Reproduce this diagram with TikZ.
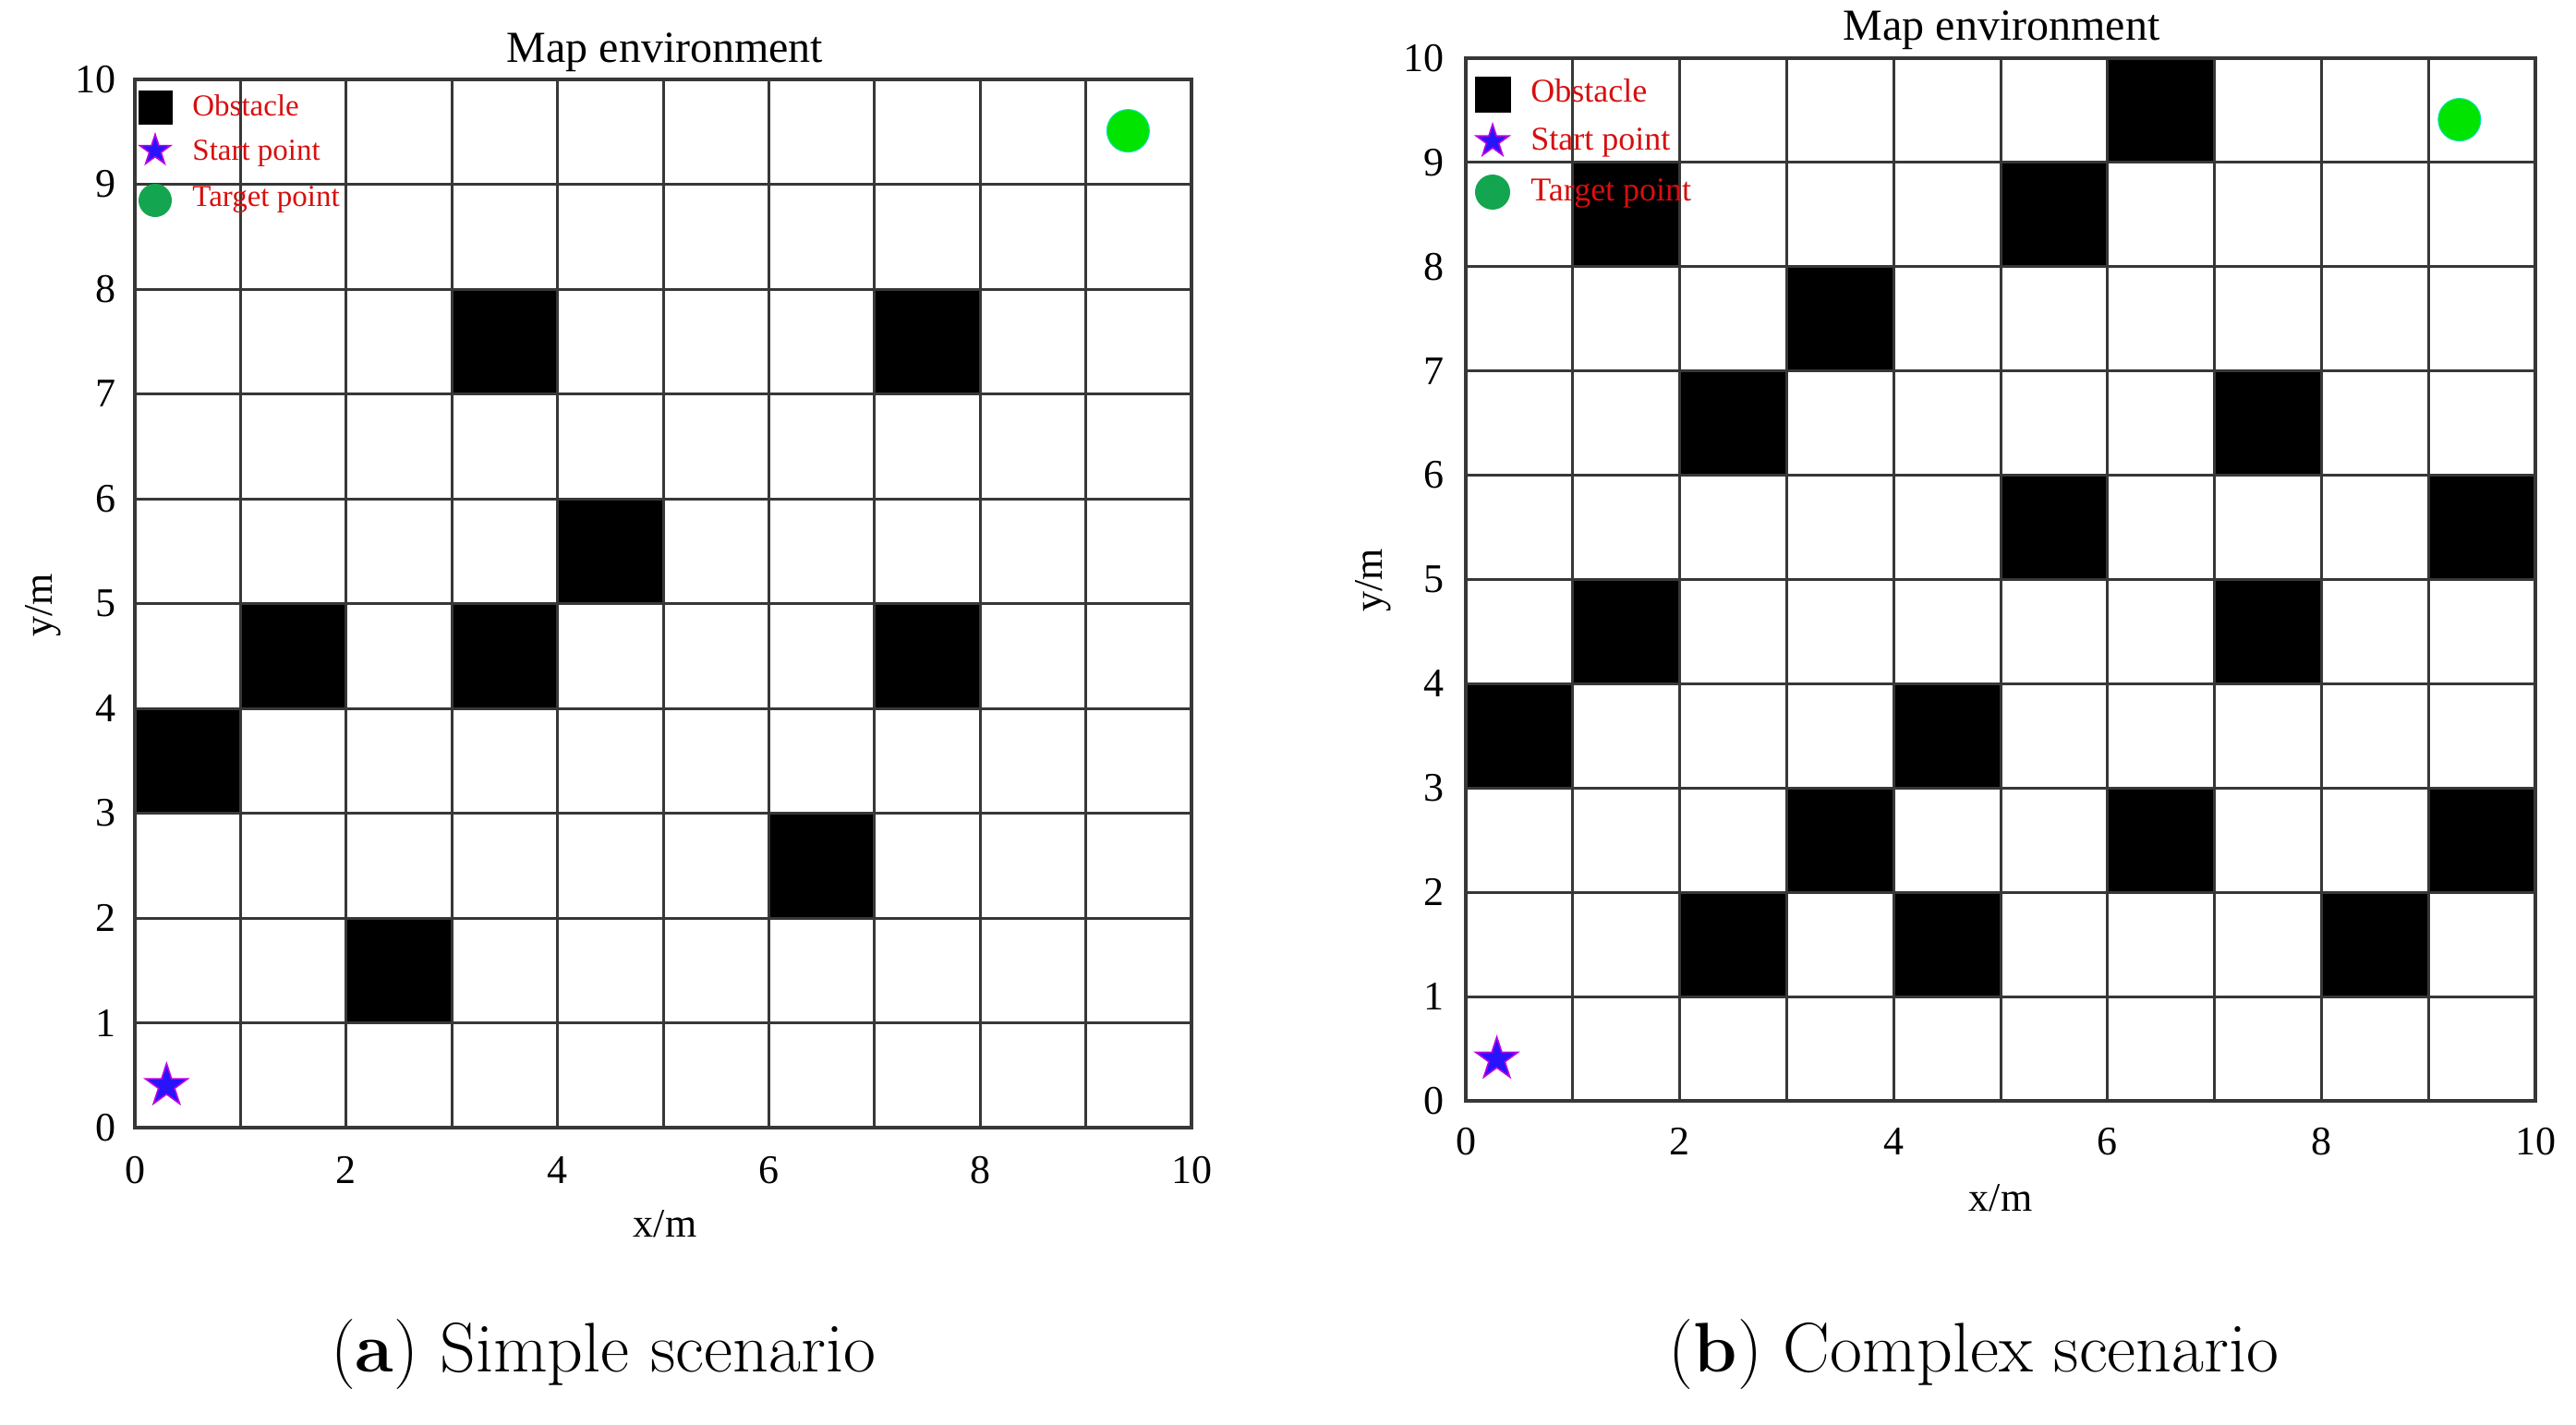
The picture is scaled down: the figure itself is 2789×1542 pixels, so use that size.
\documentclass[tikz,border=0pt]{standalone}
\usepackage{fontspec}
\newfontfamily\tnr{Liberation Serif}
\usetikzlibrary{shapes.geometric}
\definecolor{gridgray}{RGB}{55,55,55}
\definecolor{legred}{RGB}{215,15,15}
\definecolor{starblue}{RGB}{40,20,250}
\definecolor{starmag}{RGB}{190,0,230}
\definecolor{tgreen}{RGB}{0,228,0}
\definecolor{tedge}{RGB}{0,225,170}
\definecolor{lgreen}{RGB}{20,165,80}
\begin{document}
\begin{tikzpicture}[x=0.5pt,y=-0.5pt,
  gridline/.style={line width=1.5pt, draw=gridgray},
  border/.style={line width=2pt, draw=gridgray},
  obst/.style={fill=black},
  ticklab/.style={font=\tnr\fontsize{22}{24}\selectfont, inner sep=0pt},
  axlab/.style={font=\tnr\fontsize{22}{24}\selectfont, inner sep=0pt},
  titlelab/.style={font=\tnr\fontsize{24}{26}\selectfont, inner sep=0pt, anchor=base},
  legtext/.style={font=\tnr\fontsize{#1}{#1}\selectfont, text=legred, anchor=base west, inner sep=0pt},
  startstar/.style={star, star points=5, star point ratio=2.618, fill=starblue, draw=starmag, line width=0.8pt, inner sep=0pt, minimum size=#1},
  target/.style={circle, fill=tgreen, draw=tedge, line width=0.5pt, inner sep=0pt, minimum size=#1},
  legtarget/.style={circle, fill=lgreen, inner sep=0pt, minimum size=#1},
  legobst/.style={fill=black, inner sep=0pt, minimum size=#1},
  caption/.style={font=\fontsize{38}{44}\selectfont, anchor=base, inner sep=0pt}
]
\useasboundingbox (0,0) rectangle (2789,1542);
\fill[white] (0,0) rectangle (2789,1542);

% ---------------- Left plot ----------------
\begin{scope}[shift={(146,1221)}, x=57.2pt, y=56.75pt]
  \foreach \c/\r in {3/7,7/7,4/5,1/4,3/4,7/4,0/3,6/2,2/1}
    \fill[obst] (\c,\r) rectangle ++(1,1);
  \foreach \i in {1,...,9} {
    \draw[gridline] (\i,0) -- (\i,10);
    \draw[gridline] (0,\i) -- (10,\i);
  }
  \draw[border] (0,0) rectangle (10,10);
  \foreach \i in {0,...,10}
    \node[ticklab, anchor=east] (aly\i) at ([xshift=-10pt]0,\i) {\i};
  \foreach \i in {0,2,...,10}
    \node[ticklab] (alx\i) at ([yshift=-23pt]\i,0) {\i};
  \node[target=23pt] (atgt) at (9.40,9.51) {};
  \node[startstar=24pt] (astart) at (0.30,0.40) {};
\end{scope}
\node[titlelab] (atitle) at (720,67) {Map environment};
\node[axlab] (axm) at (720,1325) {x/m};
\node[axlab, rotate=90] (aym) at (47,655) {y/m};
% legend left
\node[legobst=18.5pt] (alobs) at (168,116) {};
\node[startstar=17.5pt] (alstar) at (168,163) {};
\node[legtarget=18pt] (altgt) at (168,217) {};
\node[legtext=16.5] (alobst) at (208,125) {Obstacle};
\node[legtext=16.5] (alstt) at (208,173) {Start point};
\node[legtext=16.5] (altgtt) at (208,223) {Target point};
\node[caption] (acap) at (653,1485) {(\textbf{a}) Simple scenario};

% ---------------- Right plot ----------------
\begin{scope}[shift={(1587,1192)}, x=57.9pt, y=56.45pt]
  \foreach \c/\r in {6/9,1/8,5/8,3/7,2/6,7/6,5/5,9/5,1/4,7/4,0/3,4/3,3/2,6/2,9/2,2/1,4/1,8/1}
    \fill[obst] (\c,\r) rectangle ++(1,1);
  \foreach \i in {1,...,9} {
    \draw[gridline] (\i,0) -- (\i,10);
    \draw[gridline] (0,\i) -- (10,\i);
  }
  \draw[border] (0,0) rectangle (10,10);
  \foreach \i in {0,...,10}
    \node[ticklab, anchor=east] (bly\i) at ([xshift=-11.5pt]0,\i) {\i};
  \foreach \i in {0,2,...,10}
    \node[ticklab] (blx\i) at ([yshift=-22pt]\i,0) {\i};
  \node[target=23pt] (btgt) at (9.29,9.41) {};
  \node[startstar=24pt] (bstart) at (0.29,0.40) {};
\end{scope}
\node[titlelab] (btitle) at (2167,43) {Map environment};
\node[axlab] (bxm) at (2166,1297) {x/m};
\node[axlab, rotate=90] (bym) at (1487,628) {y/m};
% legend right
\node[legobst=19.5pt] (blobs) at (1616,102.5) {};
\node[startstar=18.5pt] (blstar) at (1616,153) {};
\node[legtarget=19pt] (bltgt) at (1616,208) {};
\node[legtext=18] (blobst) at (1657,110) {Obstacle};
\node[legtext=18] (blstt) at (1657,162) {Start point};
\node[legtext=18] (bltgtt) at (1657,217) {Target point};
\node[caption] (bcap) at (2137,1485) {(\textbf{b}) Complex scenario};
\end{tikzpicture}
\end{document}
